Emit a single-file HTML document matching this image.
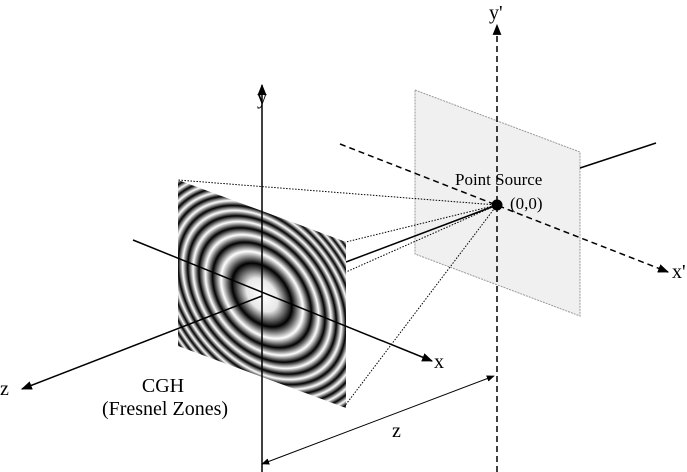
<!DOCTYPE html>
<html><head><meta charset="utf-8"><style>
html,body{margin:0;padding:0;background:#fff;}
svg{display:block;}
text{font-family:"Liberation Serif",serif;fill:#000;}
</style></head><body>
<svg width="687" height="472" viewBox="0 0 687 472" xmlns="http://www.w3.org/2000/svg">
<defs>
<marker id="ar" viewBox="0 0 10 10" refX="9" refY="5" markerWidth="11" markerHeight="11" markerUnits="userSpaceOnUse" orient="auto"><path d="M0,1 L10,5 L0,9 Z" fill="#000"/></marker>
<marker id="as" viewBox="0 0 10 10" refX="9" refY="5" markerWidth="8" markerHeight="8" markerUnits="userSpaceOnUse" orient="auto-start-reverse"><path d="M0,1 L10,5 L0,9 Z" fill="#000"/></marker>
<radialGradient id="fz" gradientUnits="userSpaceOnUse" cx="84" cy="84" r="130">
<stop offset="0" stop-color="#fff"/>
<stop offset="0.12" stop-color="#e8e8e8"/>
<stop offset="0.23" stop-color="#000"/>
<stop offset="0.315" stop-color="#fff"/>
<stop offset="0.38" stop-color="#000"/>
<stop offset="0.435" stop-color="#fff"/>
<stop offset="0.485" stop-color="#000"/>
<stop offset="0.53" stop-color="#fff"/>
<stop offset="0.571" stop-color="#000"/>
<stop offset="0.61" stop-color="#fff"/>
<stop offset="0.646" stop-color="#000"/>
<stop offset="0.681" stop-color="#fff"/>
<stop offset="0.715" stop-color="#000"/>
<stop offset="0.746" stop-color="#fff"/>
<stop offset="0.777" stop-color="#000"/>
<stop offset="0.806" stop-color="#fff"/>
<stop offset="0.835" stop-color="#000"/>
<stop offset="0.862" stop-color="#fff"/>
<stop offset="0.888" stop-color="#000"/>
<stop offset="0.914" stop-color="#fff"/>
<stop offset="0.938" stop-color="#000"/>
<stop offset="0.963" stop-color="#fff"/>
<stop offset="0.985" stop-color="#000"/>
<stop offset="1" stop-color="#fff"/>
</radialGradient>
</defs>

<polygon points="415,90 580,152 580,316 415,254" fill="#f0f0f0" stroke="#999" stroke-width="1" stroke-dasharray="2,1"/>
<line x1="580" y1="168" x2="656" y2="143" stroke="#000" stroke-width="1.5"/>
<line x1="340" y1="144" x2="668" y2="272" stroke="#000" stroke-width="1.5" stroke-dasharray="6,4" marker-end="url(#ar)"/>
<line x1="497" y1="472" x2="497" y2="25" stroke="#000" stroke-width="1.5" stroke-dasharray="6,4" marker-end="url(#ar)"/>

<g stroke="#000" stroke-width="1" stroke-dasharray="1.5,1.5" fill="none">
<line x1="497" y1="205" x2="178" y2="180"/>
<line x1="497" y1="205" x2="346" y2="242"/>
<line x1="497" y1="205" x2="346" y2="272"/>
<line x1="497" y1="205" x2="344" y2="407"/>
</g>
<line x1="346" y1="262" x2="497" y2="205" stroke="#000" stroke-width="1.5"/>

<g transform="matrix(1,0.369,0,1,178,180)">
<rect x="0" y="0" width="168" height="166" fill="url(#fz)"/>
</g>

<line x1="262" y1="472" x2="262" y2="85" stroke="#000" stroke-width="1.5" marker-end="url(#ar)"/>
<line x1="133" y1="240" x2="432" y2="361" stroke="#000" stroke-width="1.5" marker-end="url(#ar)"/>
<line x1="262" y1="296" x2="22" y2="389" stroke="#000" stroke-width="1.5" marker-end="url(#ar)"/>

<circle cx="497" cy="205" r="5.5" fill="#000"/>

<line x1="262" y1="464" x2="494" y2="376" stroke="#000" stroke-width="1" marker-start="url(#as)" marker-end="url(#as)"/>

<text x="257" y="104" font-size="20">y</text>
<text x="434" y="368" font-size="20">x</text>
<text x="0" y="395" font-size="20">z</text>
<text x="489" y="19" font-size="20">y'</text>
<text x="672" y="278" font-size="20">x'</text>
<text x="392" y="437" font-size="20">z</text>
<text x="163" y="392" font-size="20" text-anchor="middle">CGH</text>
<text x="165" y="415" font-size="20" text-anchor="middle">(Fresnel Zones)</text>
<text x="455" y="185" font-size="17">Point Source</text>
<text x="510" y="209" font-size="17">(0,0)</text>
</svg>
</body></html>
